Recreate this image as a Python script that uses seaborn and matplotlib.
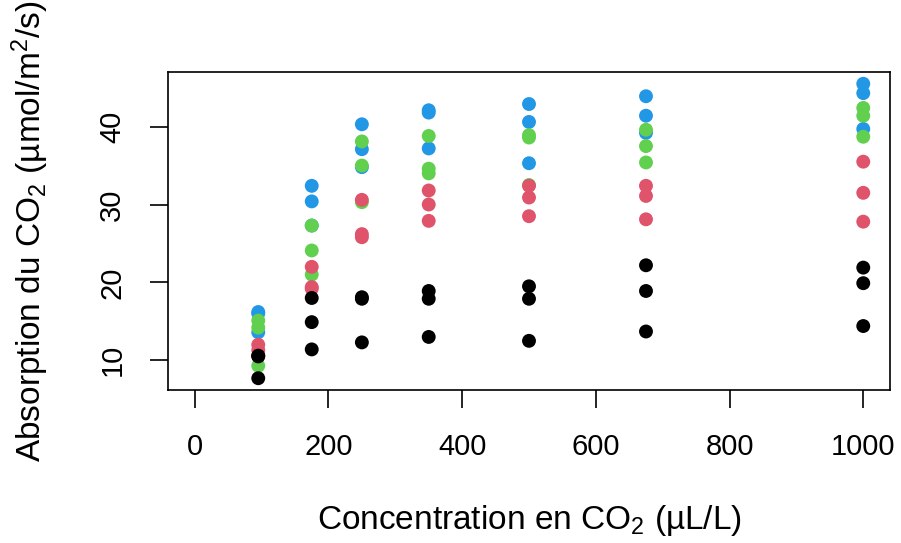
import matplotlib
matplotlib.use("Agg")
import matplotlib.pyplot as plt
import seaborn as sns
import pandas as pd
import numpy as np

conc = [95, 175, 250, 350, 500, 675, 1000]
plants = ["Qn1", "Qn2", "Qn3", "Qc1", "Qc3", "Qc2",
          "Mn3", "Mn2", "Mn1", "Mc2", "Mc3", "Mc1"]
groups = ["Quebec nonchilled"] * 3 + ["Quebec chilled"] * 3 + \
         ["Mississippi nonchilled"] * 3 + ["Mississippi chilled"] * 3
uptake = [
    [16.0, 30.4, 34.8, 37.2, 35.3, 39.2, 39.7],
    [13.6, 27.3, 37.1, 41.8, 40.6, 41.4, 44.3],
    [16.2, 32.4, 40.3, 42.1, 42.9, 43.9, 45.5],
    [14.2, 24.1, 30.3, 34.6, 32.5, 35.4, 38.7],
    [15.1, 21.0, 38.1, 34.0, 38.9, 39.6, 41.4],
    [9.3, 27.3, 35.0, 38.8, 38.6, 37.5, 42.4],
    [11.3, 19.4, 25.8, 27.9, 28.5, 28.1, 27.8],
    [12.0, 22.0, 30.6, 31.8, 32.4, 31.1, 31.5],
    [10.6, 19.2, 26.2, 30.0, 30.9, 32.4, 35.5],
    [7.7, 11.4, 12.3, 13.0, 12.5, 13.7, 14.4],
    [10.6, 18.0, 17.9, 17.9, 17.9, 18.9, 19.9],
    [10.5, 14.9, 18.1, 18.9, 19.5, 22.2, 21.9],
]
palette = {
    "Quebec nonchilled": "#2297E6",
    "Quebec chilled": "#61D04F",
    "Mississippi nonchilled": "#DF536B",
    "Mississippi chilled": "#000000",
}
x_ticks = [0, 200, 400, 600, 800, 1000]
y_ticks = [10, 20, 30, 40]

rows = []
for p, g, u in zip(plants, groups, uptake):
    for c, v in zip(conc, u):
        rows.append({"Plant": p, "Group": g, "conc": c, "uptake": v})
df = pd.DataFrame(rows)

sns.set_theme(style="white")
plt.rcParams["font.family"] = ["Liberation Sans", "DejaVu Sans"]
plt.rcParams["mathtext.fontset"] = "custom"
plt.rcParams["mathtext.rm"] = "Liberation Sans"
plt.rcParams["mathtext.it"] = "Liberation Sans:italic"

fig = plt.figure(figsize=(9.01, 5.43), dpi=100)
ax = fig.add_axes([168 / 901, 1 - 390 / 543, (890 - 168) / 901, (390 - 72) / 543])

sns.scatterplot(data=df, x="conc", y="uptake", hue="Group", palette=palette,
                s=100, linewidth=0, legend=False, ax=ax, zorder=3)

ymin, ymax = min(min(u) for u in uptake), max(max(u) for u in uptake)
yr = ymax - ymin
ax.set_xlim(-40, 1040)
ax.set_ylim(ymin - 0.04 * yr, ymax + 0.04 * yr)
ax.set_xticks(x_ticks)
ax.set_yticks(y_ticks)
ax.set_xticklabels([str(t) for t in x_ticks])
ax.set_yticklabels([str(t) for t in y_ticks], rotation=90, va="center")

for sp in ax.spines.values():
    sp.set_visible(True)
    sp.set_color("black")
    sp.set_linewidth(1.2)
ax.tick_params(axis="both", which="major", direction="out", length=13,
               width=1.2, color="black", labelsize=21, labelcolor="black",
               bottom=True, left=True)
ax.tick_params(axis="x", pad=18)
ax.tick_params(axis="y", pad=17)

ax.set_xlabel("Concentration en CO$_2$ (µL/L)", fontsize=24, color="black")
ax.set_ylabel("Absorption du CO$_2$ (µmol/m$^2$/s)", fontsize=24, color="black")
ax.xaxis.set_label_coords(0.5, (390 - 521) / 318, transform=ax.transAxes)
ax.yaxis.set_label_coords((30 - 168) / 722, 0.5 + (318 / 2 - (231 - 72)) / 318, transform=ax.transAxes)
ax.xaxis.label.set_va("center")
ax.yaxis.label.set_va("center")

fig.savefig("out.png", dpi=100, facecolor="white")
